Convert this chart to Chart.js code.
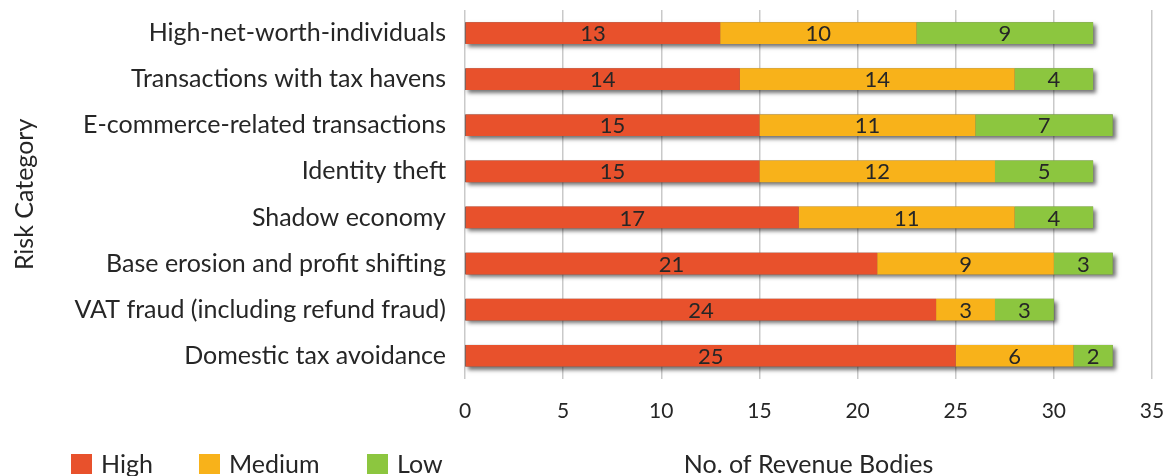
<!DOCTYPE html>
<html>
<head>
<meta charset="utf-8">
<title>Risk categories by revenue bodies</title>
<script src="https://cdn.jsdelivr.net/npm/chart.js@4.4.1/dist/chart.umd.min.js"></script>
<style>
  html, body { margin:0; padding:0; background:#fff; }
  #wrap { width:1167px; height:476px; position:relative; }
</style>
</head>
<body>
<div id="wrap"><canvas id="riskChart"></canvas></div>
<script>
// --- Data ---
const categories = [
  'High-net-worth-individuals',
  'Transactions with tax havens',
  'E-commerce-related transactions',
  'Identity theft',
  'Shadow economy',
  'Base erosion and profit shifting',
  'VAT fraud (including refund fraud)',
  'Domestic tax avoidance'
];
const highRisk   = [13, 14, 15, 15, 17, 21, 24, 25];
const mediumRisk = [10, 14, 11, 12, 11,  9,  3,  6];
const lowRisk    = [ 9,  4,  7,  5,  4,  3,  3,  2];
const xTicks = [0, 5, 10, 15, 20, 25, 30, 35];

const FONT = 'Lato, "Open Sans", sans-serif';
const TEXT = '#262626';

// drop shadow behind each full stacked bar
const barShadow = {
  id: 'barShadow',
  beforeDatasetsDraw(chart) {
    const {ctx, scales:{x}} = chart;
    const first = chart.getDatasetMeta(0).data;
    ctx.save();
    ctx.shadowColor = 'rgba(0,0,0,0.55)';
    ctx.shadowBlur = 4;
    ctx.shadowOffsetX = 3;
    ctx.shadowOffsetY = 3;
    ctx.fillStyle = '#666';
    first.forEach((bar, i) => {
      const total = highRisk[i] + mediumRisk[i] + lowRisk[i];
      const x0 = x.getPixelForValue(0), x1 = x.getPixelForValue(total);
      ctx.fillRect(x0, bar.y - bar.height/2, x1 - x0, bar.height);
    });
    ctx.restore();
  }
};

// value labels centred in each segment
const segmentLabels = {
  id: 'segmentLabels',
  afterDatasetsDraw(chart) {
    const {ctx} = chart;
    ctx.save();
    ctx.font = '22px ' + FONT;
    ctx.fillStyle = TEXT;
    ctx.textAlign = 'center';
    ctx.textBaseline = 'middle';
    chart.data.datasets.forEach((ds, di) => {
      chart.getDatasetMeta(di).data.forEach((bar, i) => {
        ctx.fillText(ds.data[i], (bar.x + bar.base)/2, bar.y + 1);
      });
    });
    ctx.restore();
  }
};

// legend + x axis title share one row under the chart
const bottomRow = {
  id: 'bottomRow',
  afterDraw(chart) {
    const {ctx, chartArea} = chart;
    const y = 464;
    const starts = [71, 199, 367];
    ctx.save();
    ctx.font = '25px ' + FONT;
    ctx.textBaseline = 'middle';
    chart.data.datasets.forEach((ds, i) => {
      ctx.fillStyle = ds.backgroundColor;
      ctx.fillRect(starts[i], y - 10, 21, 20);
      ctx.fillStyle = TEXT;
      ctx.textAlign = 'left';
      ctx.fillText(ds.label, starts[i] + 30, y + 1);
    });
    ctx.textAlign = 'center';
    ctx.fillText('No. of Revenue Bodies', (chartArea.left + chartArea.right)/2, y + 1);
    ctx.restore();
  }
};

new Chart(document.getElementById('riskChart'), {
  type: 'bar',
  data: {
    labels: categories,
    datasets: [
      {label:'High',   data:highRisk,   backgroundColor:'#e8512c'},
      {label:'Medium', data:mediumRisk, backgroundColor:'#f8b21a'},
      {label:'Low',    data:lowRisk,    backgroundColor:'#8cc63f'}
    ]
  },
  options: {
    indexAxis:'y',
    responsive:true,
    maintainAspectRatio:false,
    animation:false,
    layout:{padding:{left:10, right:15, top:10, bottom:32}},
    datasets:{bar:{barPercentage:0.47, categoryPercentage:1, borderWidth:0}},
    plugins:{legend:{display:false}, tooltip:{enabled:false}},
    scales:{
      x:{
        stacked:true, min:0, max:35,
        afterBuildTicks(scale){ scale.ticks = xTicks.map(v => ({value:v})); },
        afterFit(scale){ scale.paddingLeft = 0; scale.paddingRight = 0; },
        grid:{color:'#c9c9c9', lineWidth:1.5, drawTicks:false},
        border:{display:false},
        ticks:{padding:20, color:TEXT, font:{family:FONT, size:21}}
      },
      y:{
        stacked:true,
        afterFit(scale){ scale.width = 455; scale.paddingTop = 0; scale.paddingBottom = 0; },
        grid:{display:false, drawTicks:false},
        border:{display:false},
        ticks:{padding:19, color:TEXT, font:{family:FONT, size:25}},
        title:{display:true, text:'Risk Category', color:TEXT, padding:0,
               font:{family:FONT, size:25}}
      }
    }
  },
  plugins:[barShadow, segmentLabels, bottomRow]
});
</script>
</body>
</html>
